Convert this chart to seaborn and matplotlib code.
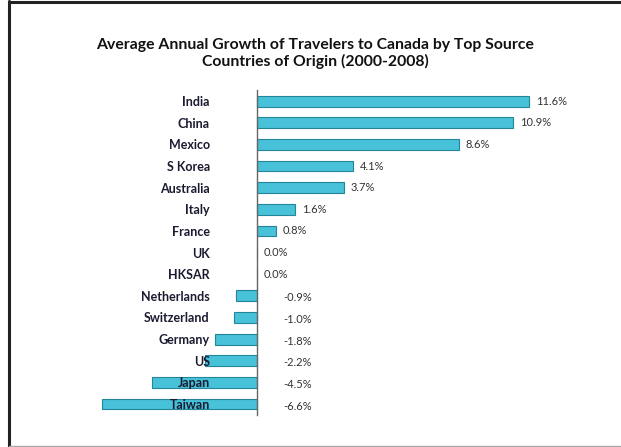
import matplotlib
matplotlib.use("Agg")
import matplotlib.pyplot as plt
import seaborn as sns
import pandas as pd
from matplotlib.lines import Line2D

# values (%)
countries = ["India", "China", "Mexico", "S Korea", "Australia", "Italy", "France", "UK",
             "HKSAR", "Netherlands", "Switzerland", "Germany", "US", "Japan", "Taiwan"]
growth = [11.6, 10.9, 8.6, 4.1, 3.7, 1.6, 0.8, 0.0, 0.0, -0.9, -1.0, -1.8, -2.2, -4.5, -6.6]

df = pd.DataFrame({"Country": countries, "Growth": growth})

sns.set_style("white")
plt.rcParams['font.family'] = ['Lato', 'DejaVu Sans']

fig = plt.figure(figsize=(6.21, 4.47), dpi=100)
ax = fig.add_axes([0.1496, 0.072, 0.7174, 0.726])

sns.barplot(data=df, x="Growth", y="Country", orient="h", color="#47c2d9",
            saturation=1, width=0.5, edgecolor="#23869a", linewidth=0.8, ax=ax)

ax.set_xlim(-7, 12)
ax.set_ylim(14.5, -0.5)

# value labels: positives after bar end, negatives to the right of the axis
for i, v in enumerate(growth):
    if v >= 0:
        ax.text(v + 0.3, i, f"{v:.1f}%", ha="left", va="center", fontsize=8, color="#333333")
    else:
        ax.text(1.1, i + 0.1, f"{v:.1f}%", ha="left", va="center", fontsize=8, color="#333333")

# y axis sits at zero, category labels next to it (drawn over the bars)
for s in ["top", "right", "bottom"]:
    ax.spines[s].set_visible(False)
ax.spines["left"].set_position(("data", 0))
ax.spines["left"].set_color("#666666")
ax.spines["left"].set_linewidth(1)
ax.spines["left"].set_zorder(10)
ax.yaxis.set_zorder(10)
ax.set_xticks([])
ax.tick_params(axis="y", length=0, pad=34)
for lbl in ax.get_yticklabels():
    lbl.set_fontweight("bold")
    lbl.set_fontsize(9)
    lbl.set_color("#1a1a30")
ax.set_xlabel("")
ax.set_ylabel("")

fig.text(0.508, 0.88, "Average Annual Growth of Travelers to Canada by Top Source\nCountries of Origin (2000-2008)",
         ha="center", va="center", fontsize=11.3, fontweight="bold", color="#111111", linespacing=1.2)

# frame around the chart
fig.add_artist(Line2D([9 / 621, 9 / 621], [0, 1 - 1 / 447], color="#222222", lw=2.2))
fig.add_artist(Line2D([9 / 621, 1], [1 - 2 / 447, 1 - 2 / 447], color="#222222", lw=2.2))
fig.add_artist(Line2D([9 / 621, 1], [1 / 447, 1 / 447], color="#aaaaaa", lw=1))

fig.savefig("out.png", dpi=100)
